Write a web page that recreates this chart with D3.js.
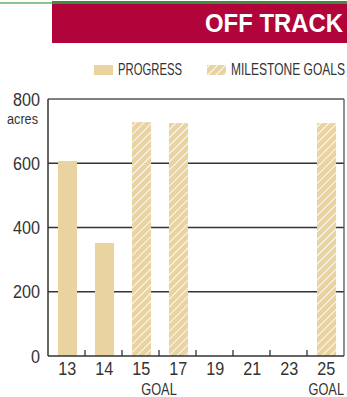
<!DOCTYPE html>
<html>
<meta charset="utf-8">
<head>
  <script src="https://d3js.org/d3.v7.min.js"></script>
  <style>
    body { margin: 0; background: #fff; }
    text { font-family: "Liberation Sans", Arial, sans-serif; fill: #333; }
  </style>
</head>
<body>
<div id="chart"></div>
<script>
  // data
  var years = ["13", "14", "15", "17", "19", "21", "23", "25"];
  var progress = [["13", 607], ["14", 352]];
  var goals = [["15", 728], ["17", 725], ["25", 725]];
  var yTicks = [0, 200, 400, 600, 800];
  var goalLabels = [["15", "17"], ["25", "25"]]; // "GOAL" sits under these

  var W = 347, H = 397;
  var tan = "#E9D3A1";

  var svg = d3.select("#chart").append("svg")
    .attr("width", W)
    .attr("height", H);

  var defs = svg.append("defs");
  var pat = defs.append("pattern")
    .attr("id", "hatch")
    .attr("patternUnits", "userSpaceOnUse")
    .attr("width", 5.7)
    .attr("height", 5.7)
    .attr("patternTransform", "rotate(45)");
  pat.append("rect").attr("width", 5.7).attr("height", 5.7).attr("fill", tan);
  pat.append("line").attr("x1", 0).attr("y1", 0).attr("x2", 0).attr("y2", 5.7)
    .attr("stroke", "#fff").attr("stroke-width", 1.8);

  // top strip + banner
  svg.append("rect").attr("x", 0).attr("y", 2).attr("width", W).attr("height", 2).attr("fill", "#8cc48c");
  svg.append("rect").attr("x", 52).attr("y", 1).attr("width", W - 52).attr("height", 3).attr("fill", "#3e8d3e");
  svg.append("rect").attr("x", 52).attr("y", 4).attr("width", W - 52).attr("height", 39).attr("fill", "#B0043A");
  svg.append("text")
    .attr("x", 343).attr("y", 32)
    .attr("text-anchor", "end")
    .attr("font-size", 26).attr("font-weight", "bold")
    .attr("textLength", 138).attr("lengthAdjust", "spacingAndGlyphs")
    .style("fill", "#fff")
    .text("OFF TRACK");

  // legend
  svg.append("rect").attr("x", 94).attr("y", 65).attr("width", 19).attr("height", 10).attr("fill", tan);
  svg.append("text").attr("x", 118).attr("y", 74.5).attr("font-size", 16.5)
    .attr("textLength", 64).attr("lengthAdjust", "spacingAndGlyphs").text("PROGRESS");
  svg.append("rect").attr("x", 207).attr("y", 65).attr("width", 19).attr("height", 10).attr("fill", "url(#hatch)");
  svg.append("text").attr("x", 231).attr("y", 74.5).attr("font-size", 16.5)
    .attr("textLength", 114).attr("lengthAdjust", "spacingAndGlyphs").text("MILESTONE GOALS");

  var pLeft = 48, pRight = 344, pTop = 99, pBottom = 356;

  var x = d3.scaleBand().domain(years).range([pLeft, pRight]).padding(0);
  var y = d3.scaleLinear().domain([0, 800]).range([pBottom, pTop]);
  var bw = x.bandwidth();

  // grid
  svg.append("g").selectAll("line")
    .data(yTicks.filter(function(d) { return d > 0 && d < 800; }))
    .enter().append("line")
    .attr("x1", pLeft).attr("x2", pRight)
    .attr("y1", function(d) { return y(d); })
    .attr("y2", function(d) { return y(d); })
    .attr("stroke", "#333").attr("stroke-width", 1.5);

  // frame (top + right lighter)
  svg.append("line").attr("x1", pLeft).attr("x2", pRight).attr("y1", y(800)).attr("y2", y(800))
    .attr("stroke", "#555").attr("stroke-width", 1.3);
  svg.append("line").attr("x1", pRight).attr("x2", pRight).attr("y1", y(800)).attr("y2", y(0))
    .attr("stroke", "#555").attr("stroke-width", 1.3);

  // bars
  svg.append("g").selectAll("rect")
    .data(progress)
    .enter().append("rect")
    .attr("x", function(d) { return x(d[0]) + bw * 0.27; })
    .attr("width", bw * 0.515)
    .attr("y", function(d) { return y(d[1]); })
    .attr("height", function(d) { return y(0) - y(d[1]); })
    .attr("fill", tan);

  svg.append("g").selectAll("rect")
    .data(goals)
    .enter().append("rect")
    .attr("x", function(d) { return x(d[0]) + bw * 0.27; })
    .attr("width", bw * 0.515)
    .attr("y", function(d) { return y(d[1]); })
    .attr("height", function(d) { return y(0) - y(d[1]); })
    .attr("fill", "url(#hatch)");

  // y axis
  svg.append("line").attr("x1", pLeft).attr("x2", pLeft).attr("y1", pTop).attr("y2", pBottom)
    .attr("stroke", "#333").attr("stroke-width", 1.5);
  svg.append("g").selectAll("text")
    .data(yTicks)
    .enter().append("text")
    .attr("x", 40)
    .attr("y", function(d) { return y(d) + 6.5; })
    .attr("text-anchor", "end")
    .attr("font-size", 18)
    .attr("textLength", function(d) { return String(d).length * 9; })
    .attr("lengthAdjust", "spacingAndGlyphs")
    .text(function(d) { return d; });
  svg.append("text").attr("x", 38).attr("y", 123.5).attr("text-anchor", "end")
    .attr("font-size", 15.5).attr("textLength", 31).attr("lengthAdjust", "spacingAndGlyphs")
    .text("acres");

  // x axis
  svg.append("line").attr("x1", pLeft).attr("x2", pRight).attr("y1", pBottom).attr("y2", pBottom)
    .attr("stroke", "#333").attr("stroke-width", 1.5);
  svg.append("g").selectAll("line")
    .data(years.slice(1))
    .enter().append("line")
    .attr("x1", function(d) { return x(d); })
    .attr("x2", function(d) { return x(d); })
    .attr("y1", pBottom).attr("y2", pBottom - 6)
    .attr("stroke", "#333").attr("stroke-width", 1.3);
  svg.append("g").selectAll("text")
    .data(years)
    .enter().append("text")
    .attr("x", function(d) { return x(d) + bw * 0.52; })
    .attr("y", 374.5)
    .attr("text-anchor", "middle")
    .attr("font-size", 17.5)
    .attr("textLength", 18).attr("lengthAdjust", "spacingAndGlyphs")
    .text(function(d) { return d; });
  svg.append("g").selectAll("text")
    .data(goalLabels)
    .enter().append("text")
    .attr("x", function(d) {
      return d[0] === d[1] ? x(d[0]) + bw * 0.52 : (x(d[0]) + x(d[1]) + bw) / 2;
    })
    .attr("y", 395.3)
    .attr("text-anchor", "middle")
    .attr("font-size", 16.3)
    .attr("textLength", 35.5).attr("lengthAdjust", "spacingAndGlyphs")
    .text("GOAL");
</script>
</body>
</html>
